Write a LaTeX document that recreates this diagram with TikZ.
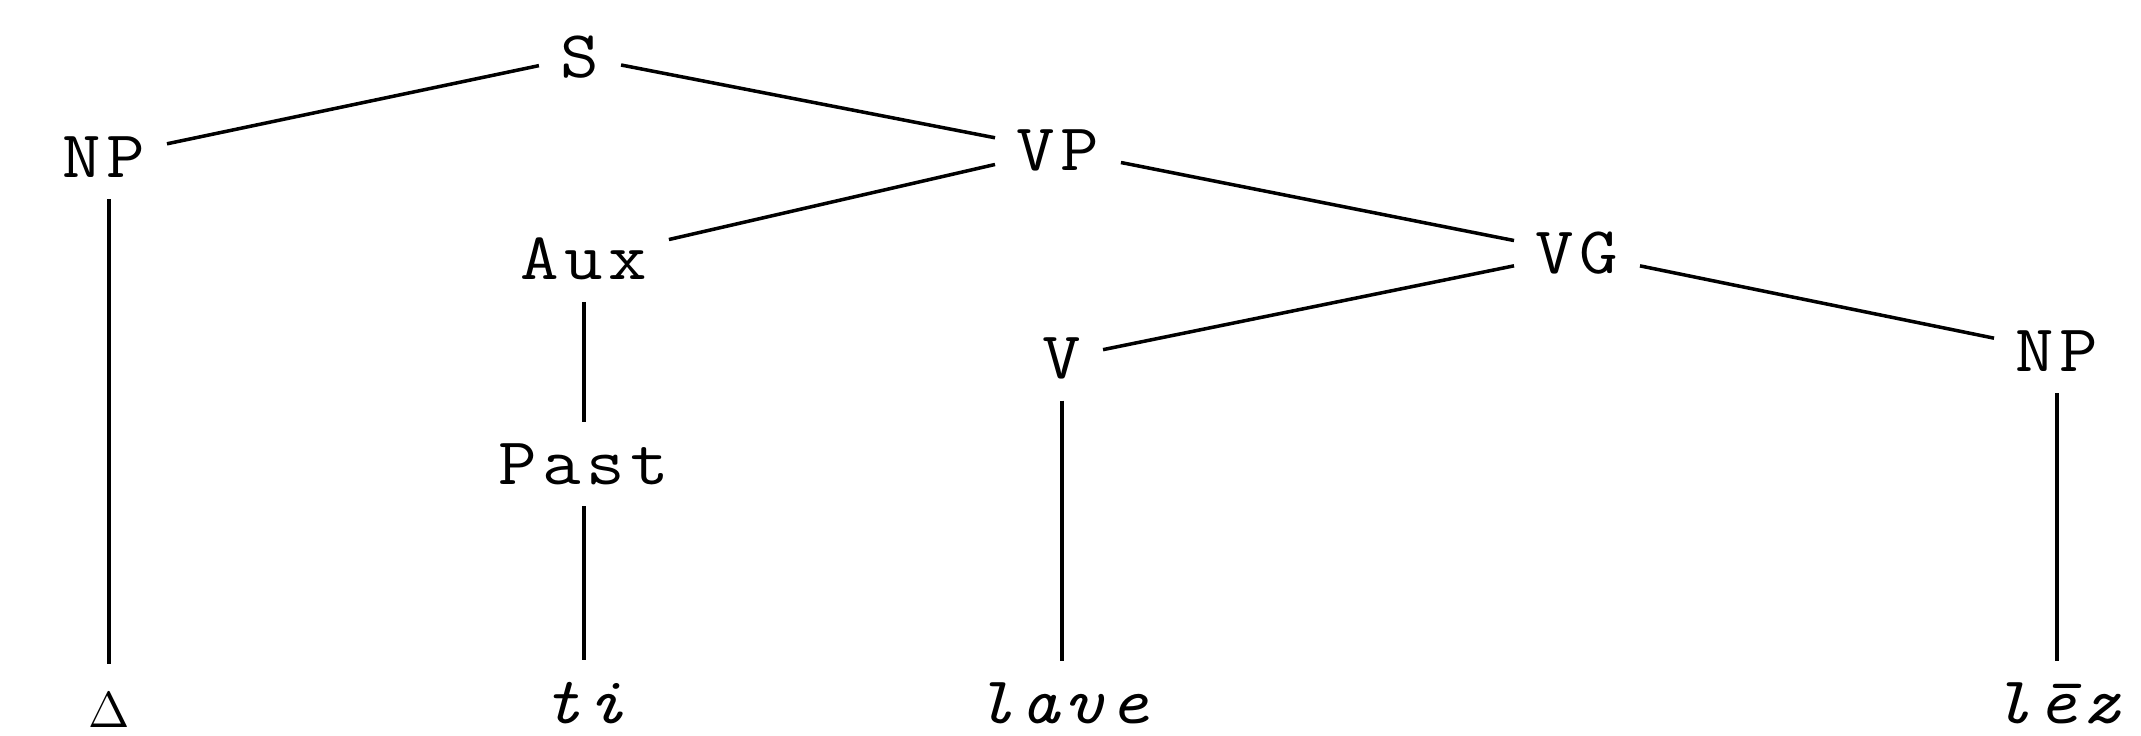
\documentclass[tikz,border=0pt]{standalone}
\usepackage{fontspec}
\newfontfamily\treefont{Latin Modern Mono}[FakeStretch=1.12,LetterSpace=8]
\usepackage{tikz}
\usetikzlibrary{positioning}

\tikzset{cat/.style={font=\fontsize{19}{22}\selectfont\treefont,inner sep=6pt},
word/.style={font=\fontsize{19}{22}\selectfont\treefont\itshape,inner sep=6pt},
branch/.style={line width=1pt}}

\begin{document}
\begin{tikzpicture}
\useasboundingbox (0,0) rectangle (21.41,-7.35);
\node[cat](s) at (5.80,-0.57){S};
\node[cat](np1) at (1.04,-1.57){NP};
\node[cat](vp) at (10.58,-1.50){VP};
\node[cat](aux) at (5.84,-2.59){Aux};
\node[cat](vg) at (15.77,-2.53){VG};
\node[cat](v) at (10.62,-3.58){V};
\node[cat](np2) at (20.57,-3.51){NP};
\node[cat](past) at (5.84,-4.64){Past};
\node[cat,inner sep=8pt](delta) at (1.09,-7.10){$\scriptstyle\Delta$};
\node[word](ti) at (5.84,-7.03){ti};
\node[word](lave) at (10.62,-7.03){lave};
\node[word](lez) at (20.57,-7.03){lēz};
\draw[branch](s)--(np1) (s)--(vp) (vp)--(aux) (vp)--(vg) (vg)--(v) (vg)--(np2);
\draw[branch](np1.south-|delta)--(delta) (aux)--(past) (past)--(ti) (v)--(lave) (np2)--(lez);
\end{tikzpicture}
\end{document}
